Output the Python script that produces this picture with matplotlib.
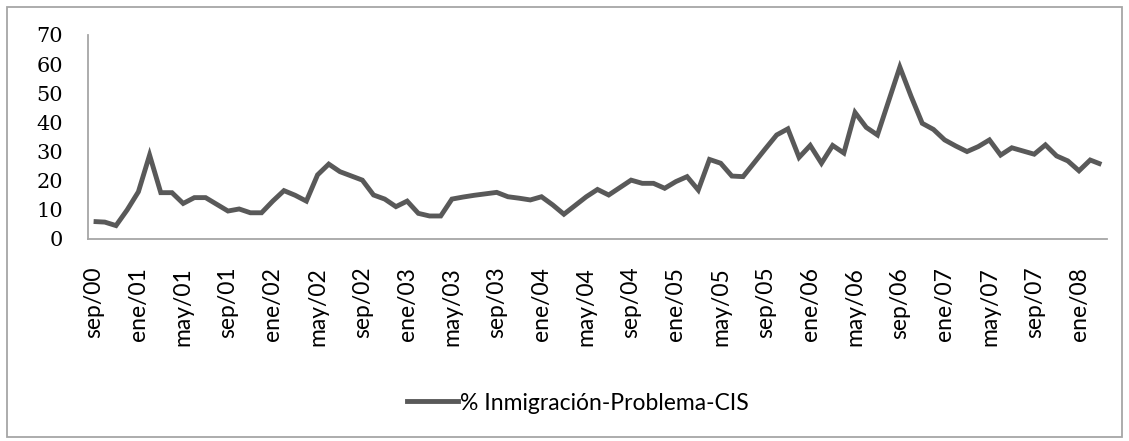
import matplotlib
matplotlib.use("Agg")
import matplotlib.pyplot as plt
from matplotlib.patches import Rectangle
from matplotlib.lines import Line2D

# ---- data (CIS barometers; August has no survey) ----
dates = [
    "2000-09", "2000-10", "2000-11", "2000-12",
    "2001-01", "2001-02", "2001-03", "2001-04", "2001-05", "2001-06", "2001-07",
    "2001-09", "2001-10", "2001-11", "2001-12",
    "2002-01", "2002-02", "2002-03", "2002-04", "2002-05", "2002-06", "2002-07",
    "2002-09", "2002-10", "2002-11", "2002-12",
    "2003-01", "2003-02", "2003-03", "2003-04", "2003-05", "2003-06", "2003-07",
    "2003-09", "2003-10", "2003-11", "2003-12",
    "2004-01", "2004-02", "2004-03", "2004-04", "2004-05", "2004-06", "2004-07",
    "2004-09", "2004-10", "2004-11", "2004-12",
    "2005-01", "2005-02", "2005-03", "2005-04", "2005-05", "2005-06", "2005-07",
    "2005-09", "2005-10", "2005-11", "2005-12",
    "2006-01", "2006-02", "2006-03", "2006-04", "2006-05", "2006-06", "2006-07",
    "2006-09", "2006-10", "2006-11", "2006-12",
    "2007-01", "2007-02", "2007-03", "2007-04", "2007-05", "2007-06", "2007-07",
    "2007-09", "2007-10", "2007-11", "2007-12",
    "2008-01", "2008-02", "2008-03",
]
values = [
    6.0, 5.8, 4.6, 10.0,
    16.2, 28.8, 15.9, 15.9, 12.2, 14.2, 14.2,
    9.6, 10.3, 9.0, 9.0,
    13.0, 16.6, 15.0, 13.0, 22.0, 25.7, 23.1,
    20.2, 15.1, 13.7, 11.1,
    13.0, 8.8, 7.9, 7.9, 13.7, 14.4, 15.0,
    16.0, 14.5, 14.0, 13.4,
    14.5, 11.7, 8.5, 11.5, 14.5, 17.0, 15.1,
    20.2, 19.1, 19.1, 17.4,
    19.7, 21.4, 16.8, 27.3, 26.0, 21.6, 21.4,
    31.0, 35.7, 37.8, 28.0,
    32.1, 26.0, 32.1, 29.5, 43.4, 38.3, 35.7,
    59.0, 49.0, 39.7, 37.6,
    34.0, 31.9, 30.0, 31.7, 34.0, 28.8, 31.3,
    29.1, 32.3, 28.5, 26.8,
    23.4, 27.1, 25.6,
]
xtick_labels = [
    "sep/00", "ene/01", "may/01", "sep/01", "ene/02", "may/02", "sep/02",
    "ene/03", "may/03", "sep/03", "ene/04", "may/04", "sep/04", "ene/05",
    "may/05", "sep/05", "ene/06", "may/06", "sep/06", "ene/07", "may/07",
    "sep/07", "ene/08",
]
yticks = [0, 10, 20, 30, 40, 50, 60, 70]
series_label = "% Inmigración-Problema-CIS"
first_month = "2000-09"
last_month = "2008-03"

month_abbr = {"ene": 1, "feb": 2, "mar": 3, "abr": 4, "may": 5, "jun": 6,
              "jul": 7, "ago": 8, "sep": 9, "oct": 10, "nov": 11, "dic": 12}


def ym_index(y, m):
    y0, m0 = map(int, first_month.split("-"))
    return (y - y0) * 12 + (m - m0)


def date_index(s):
    y, m = map(int, s.split("-"))
    return ym_index(y, m)


def label_index(lbl):
    mon, yy = lbl.split("/")
    return ym_index(2000 + int(yy), month_abbr[mon])


x = [date_index(d) for d in dates]
xt = [label_index(l) for l in xtick_labels]
n_months = date_index(last_month) + 1

W, H = 1129, 441
fig = plt.figure(figsize=(W / 100, H / 100), dpi=100)
fig.patch.set_facecolor("white")

left, right, top, bottom = 88, 1107, 35, 239
ax = fig.add_axes([left / W, 1 - bottom / H, (right - left) / W, (bottom - top) / H])

line_color = "#595959"
ax.plot(x, values, color=line_color, lw=3.5, solid_joinstyle="miter",
        solid_capstyle="butt")

ax.set_xlim(-0.5, n_months - 0.5)
ax.set_ylim(0, 70)
ax.set_yticks(yticks)
ax.set_yticklabels([str(v) for v in yticks], family="DejaVu Serif",
                   fontsize=15, color="#000000")
ax.set_xticks(xt)
ax.set_xticklabels(xtick_labels, rotation=90, family="Lato", fontsize=16.5,
                   color="#000000", ha="center", va="top")
ax.tick_params(axis="y", length=0, pad=18)
ax.tick_params(axis="x", length=0, pad=20)

for s in ("top", "right"):
    ax.spines[s].set_visible(False)
for s in ("left", "bottom"):
    ax.spines[s].set_color("#a6a6a6")
    ax.spines[s].set_linewidth(1.3)

handle = Line2D([], [], color=line_color, lw=3.5)
fig.legend([handle], [series_label], loc="center",
           bbox_to_anchor=(578 / W, 1 - 403 / H), frameon=False,
           prop={"family": "Lato", "size": 16.5}, handlelength=2.2,
           handletextpad=0.1)

fig.patches.append(Rectangle((7 / W, 1 - 437 / H), (1122 - 7) / W, (437 - 7) / H,
                             transform=fig.transFigure, fill=False,
                             edgecolor="#a6a6a6", lw=1.3))

fig.savefig("out.png", dpi=100)
